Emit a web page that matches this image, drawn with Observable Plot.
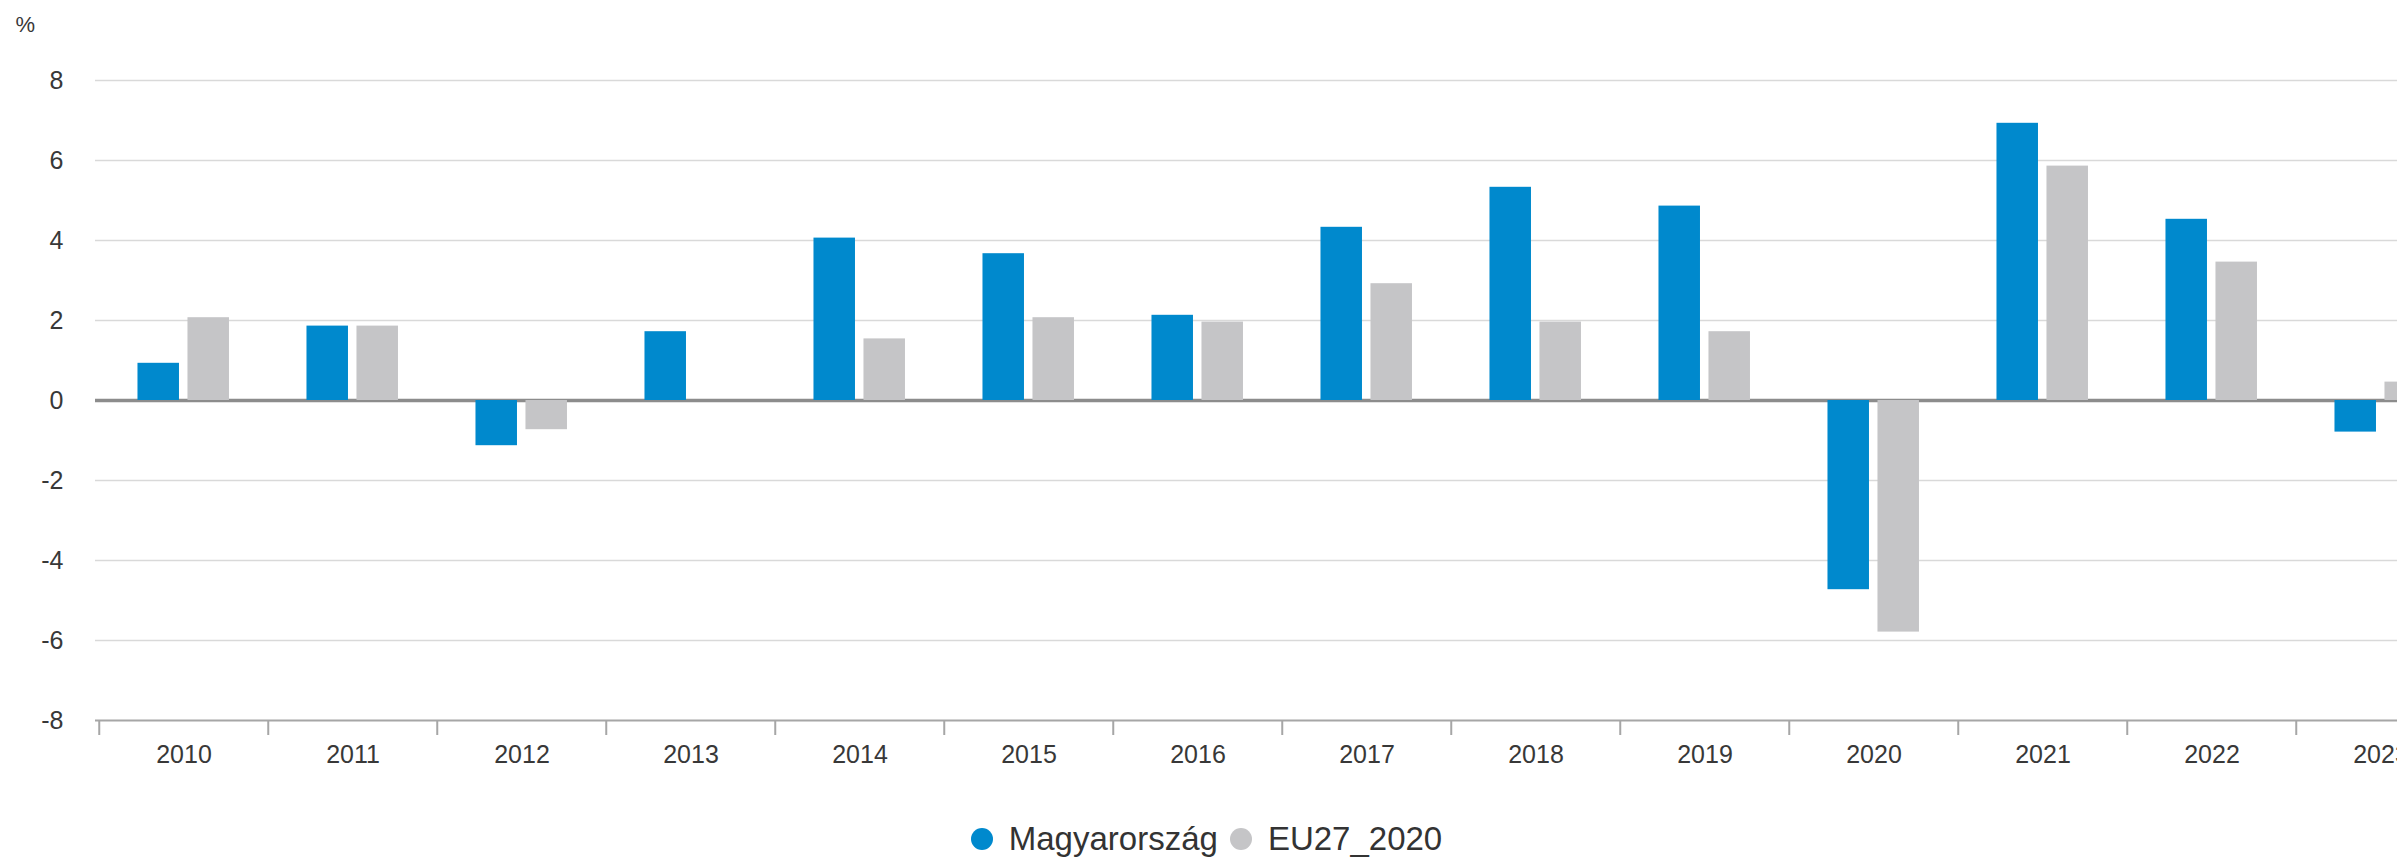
<!DOCTYPE html>
<html>
<head>
<meta charset="utf-8">
<script src="https://cdn.jsdelivr.net/npm/d3@7"></script>
<script src="https://cdn.jsdelivr.net/npm/@observablehq/plot@0.6"></script>
<style>
  html, body { margin: 0; padding: 0; background: #fff; overflow: hidden; }
  #chart { width: 2397px; overflow: hidden; }
  #chart svg { display: block; max-width: none !important; }
  .legend {
    width: 2397px; height: 40px; margin-top: 29px;
    display: flex; justify-content: center; align-items: center;
    font-family: "Liberation Sans", Arial, sans-serif; font-size: 33px; color: #333;
    box-sizing: border-box; padding-left: 16px;
  }
  .legend .item { display: flex; align-items: center; margin: 0 6px; }
  .legend .dot { width: 22px; height: 22px; border-radius: 50%; margin-right: 16px; }
</style>
</head>
<body>
<div id="chart"></div>
<div class="legend" id="legend"></div>
<script>
const years = ["2010","2011","2012","2013","2014","2015","2016","2017","2018","2019","2020","2021","2022","2023"];
const hungary = [0.93, 1.86, -1.13, 1.72, 4.06, 3.67, 2.13, 4.33, 5.33, 4.86, -4.73, 6.93, 4.53, -0.79];
const eu27 = [2.07, 1.86, -0.73, 0.0, 1.54, 2.07, 1.96, 2.92, 1.96, 1.72, -5.79, 5.86, 3.46, 0.46];
const seriesNames = ["Magyarország", "EU27_2020"];
const seriesColors = ["#0089cd", "#c5c5c7"];
const yTicks = [-8, -6, -4, -2, 0, 2, 4, 6, 8];
const unitLabel = "%";

const huData = years.map((year, i) => ({year, value: hungary[i]}));
const euData = years.map((year, i) => ({year, value: eu27[i]}));

const width = 2468, height = 790;
const marginLeft = 95, marginRight = 0, marginTop = 80, marginBottom = 70;
const step = (width - marginLeft - marginRight) / years.length;
const frameH = height - marginTop - marginBottom;
const font = '"Liberation Sans", Arial, sans-serif';

const chart = Plot.plot({
  width, height, marginLeft, marginRight, marginTop, marginBottom,
  style: {fontFamily: font, fontSize: "25px", color: "#383838", background: "#fff", maxWidth: "none"},
  x: {type: "band", domain: years, padding: 0, label: null},
  y: {domain: [-8, 8], label: null},
  marks: [
    Plot.gridY(yTicks.filter(d => d > -8 && d !== 0), {stroke: "#d9d9d9", strokeOpacity: 1, strokeWidth: 1.5}),
    Plot.ruleY([-8], {stroke: "#a6a6a6", strokeWidth: 2}),
    Plot.ruleX(years, {x: d => d, dx: -step / 2, stroke: "#a6a6a6", strokeWidth: 2, insetTop: frameH, insetBottom: -15}),
    Plot.ruleY([0], {stroke: "#8c8c8c", strokeWidth: 3.5}),
    Plot.barY(huData, {x: "year", y: "value", fill: seriesColors[0], insetLeft: step * 0.227, insetRight: step - step * 0.227 - 42}),
    Plot.barY(euData, {x: "year", y: "value", fill: seriesColors[1], insetLeft: step * 0.227 + 50, insetRight: step - step * 0.227 - 92}),
    Plot.axisY({ticks: yTicks, tickSize: 0, tickPadding: 32, tickFormat: d => String(d), fontSize: 25, label: null}),
    Plot.axisX({tickSize: 0, tickPadding: 25, fontSize: 25, label: null}),
    Plot.text([unitLabel], {frameAnchor: "top-left", dx: -80, dy: -64, textAnchor: "start", fontSize: 22, fill: "#383838"})
  ]
});
chart.style.maxWidth = "none";
document.getElementById("chart").appendChild(chart);

const legend = document.getElementById("legend");
seriesNames.forEach((name, i) => {
  const item = document.createElement("div");
  item.className = "item";
  const dot = document.createElement("span");
  dot.className = "dot";
  dot.style.background = seriesColors[i];
  const label = document.createElement("span");
  label.textContent = name;
  item.appendChild(dot);
  item.appendChild(label);
  legend.appendChild(item);
});
</script>
</body>
</html>
